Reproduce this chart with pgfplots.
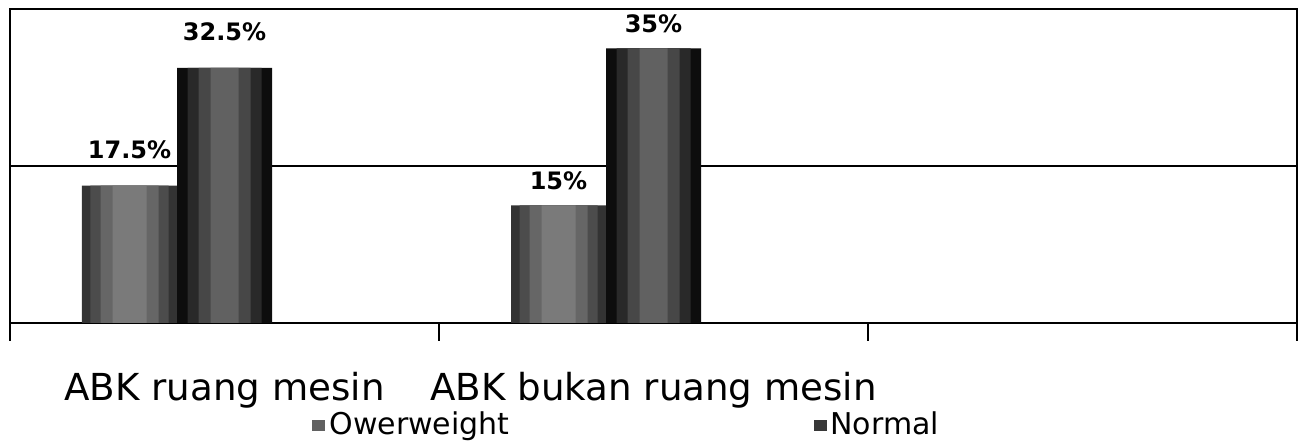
\documentclass[border=0pt]{standalone}
\usepackage{fontspec}
\setmainfont{DejaVu Sans}
\usepackage{pgfplots}
\usepackage{pgfplotstable}
\pgfplotsset{compat=1.18}
\usetikzlibrary{calc}
\pgfplotstableread{
x y dy
0 17.5 10
1 15 4
}\owdata
\pgfplotstableread{
x y dy
0 32.5 10
1 35 4
}\nmdata
\pgfplotsset{
  ow/.style={ybar, draw=none, bar shift=-47.5pt},
  nm/.style={ybar, draw=none, bar shift=0pt},
  lbl/.style={nodes near coords={\pgfmathprintnumber{\pgfplotspointmeta}\%},
    visualization depends on={\thisrow{dy} \as \dy},
    every node near coord/.append style={font=\bfseries\fontsize{12}{14}\selectfont, text=black, yshift=\dy, xshift=#1}},
}
\begin{document}
\begin{tikzpicture}
\begin{axis}[
  scale only axis, width=643.5pt, height=157pt,
  xmin=-0.5, xmax=2.5, ymin=0, ymax=40,
  axis line style={line width=1.2pt, black},
  xtick={-0.5,0.5,1.5,2.5},
  x tick label as interval,
  xticklabels={ABK ruang mesin, ABK bukan ruang mesin, {}},
  xtick pos=bottom,
  major tick length=9pt,
  tick align=outside,
  xtick style={line width=1pt, black},
  xticklabel style={font=\fontsize{18.6}{22}\selectfont, yshift=-12pt},
  ytick={20}, yticklabels={},
  ytick style={draw=none},
  ymajorgrids,
  grid style={black, line width=1.4pt},
  /pgf/number format/assume math mode=true,
  legend style={draw=none, fill=none, legend columns=2,
    at={(axis description cs:0.2347,-0.325)}, anchor=west,
    font=\fontsize{15}{18}\selectfont, inner sep=0pt,
    /tikz/every even column/.append style={column sep=150pt}},
  legend cell align=left,
]
% Owerweight (layered for a cylinder look)
\addplot[ow, bar width=47.5pt, fill=black!80, lbl=-47.5pt,
  legend image code/.code={\fill[black!62] (0pt,-2.75pt) rectangle (6.5pt,2.75pt);}]
  table[x=x,y=y] {\owdata};
\addlegendentry{Owerweight}
\addplot[ow, bar width=39pt, fill=black!70, forget plot] table[x=x,y=y] {\owdata};
\addplot[ow, bar width=29pt, fill=black!60, forget plot] table[x=x,y=y] {\owdata};
\addplot[ow, bar width=17pt, fill=black!52, forget plot] table[x=x,y=y] {\owdata};
% Normal
\addplot[nm, bar width=47.5pt, fill=black!95, lbl=0pt,
  legend image code/.code={\fill[black!78] (0pt,-2.75pt) rectangle (6.5pt,2.75pt);}]
  table[x=x,y=y] {\nmdata};
\addlegendentry{Normal}
\addplot[nm, bar width=37pt, fill=black!84, forget plot] table[x=x,y=y] {\nmdata};
\addplot[nm, bar width=26pt, fill=black!72, forget plot] table[x=x,y=y] {\nmdata};
\addplot[nm, bar width=14pt, fill=black!62, forget plot] table[x=x,y=y] {\nmdata};
\coordinate (ll) at (rel axis cs:0,0);
\coordinate (ur) at (rel axis cs:1,1);
\end{axis}
\pgfresetboundingbox
\path[use as bounding box] ($(ll)+(-5pt,-60pt)$) rectangle ($(ur)+(3.5pt,4.5pt)$);
\end{tikzpicture}
\end{document}
